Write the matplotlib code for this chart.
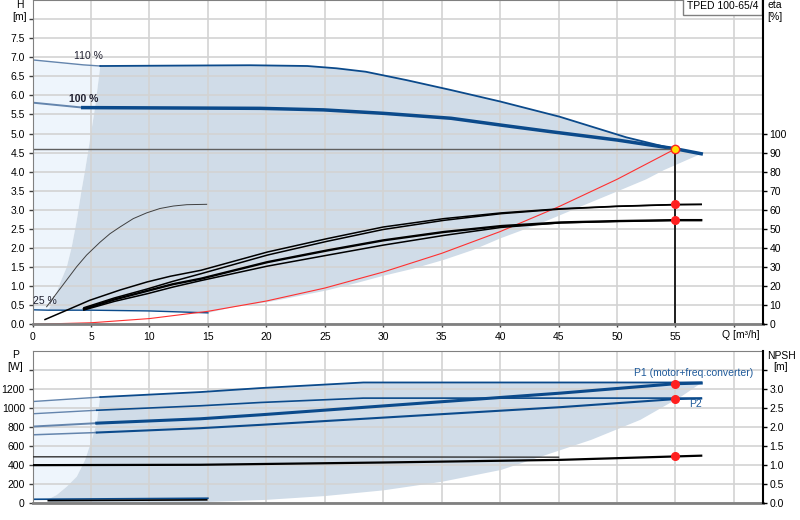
import matplotlib.pyplot as plt

plt.rcParams['font.family'] = ['Liberation Sans', 'DejaVu Sans']
plt.rcParams['font.size'] = 7.5

# --- Q-H (top panel) ---
q_h110 = [0, 4.35, 5.8, 12, 18.6, 23.5, 26, 28.5, 32, 35.8, 40, 45.1, 50.8, 54, 57.2]
h_110 = [6.93, 6.8, 6.77, 6.78, 6.79, 6.77, 6.71, 6.62, 6.4, 6.14, 5.84, 5.44, 4.9, 4.66, 4.47]
q_h100 = [0, 4.3, 12, 19.5, 24.9, 30, 35.8, 40.1, 44.3, 50, 55, 57.2]
h_100 = [5.81, 5.68, 5.67, 5.66, 5.62, 5.53, 5.4, 5.22, 5.05, 4.83, 4.6, 4.47]
q_h25 = [0, 1.35, 5, 10, 15]
h_25 = [0.38, 0.37, 0.37, 0.35, 0.3]

# left edge of operating range
q_edge = [1.35, 1.5, 1.93, 2.36, 2.93, 3.36, 3.79, 4.2, 4.5, 4.78, 5.36, 5.8]
h_edge = [0.37, 0.45, 0.72, 1.08, 1.5, 2.03, 2.73, 3.52, 4.04, 4.57, 5.7, 6.77]
# lower edge of operating range
q_low = [15, 17.2, 20.1, 22.6, 25.2, 27.7, 30, 32.6, 35.2, 37.7, 40, 43.5, 47, 50, 52.5, 54, 57.2]
h_low = [0.3, 0.45, 0.58, 0.73, 0.89, 1.08, 1.27, 1.46, 1.69, 1.95, 2.25, 2.65, 3.1, 3.48, 3.8, 4.04, 4.47]

# system curve
q_sys = [0, 5, 10, 15, 20, 25, 30, 35, 40, 45, 50, 55]
h_sys = [0, 0.04, 0.15, 0.34, 0.61, 0.95, 1.37, 1.86, 2.43, 3.08, 3.8, 4.6]

# duty point
q_duty = 55
h_duty = 4.6

# efficiency curves [%]
q_eta_a = [1.07, 2.63, 4.9, 7.5, 9.8, 11.8, 14.4, 20.1, 25.2, 30, 35.2, 40.1, 45.2, 50, 55, 57.2]
eta_a = [2.5, 6.6, 12.6, 18, 22.2, 25.2, 28.3, 37.9, 44.9, 51, 55.4, 58.4, 60.6, 61.9, 62.8, 62.9]
q_eta_b = [4.4, 7, 9.8, 12, 14.4, 20.1, 25.2, 30, 35.2, 40.1, 45.2, 50, 55, 57.2]
eta_b = [8.7, 13.8, 18.5, 22.5, 26.5, 36.3, 43.5, 49.7, 54.5, 58, 60.4, 61.8, 62.7, 62.8]
q_eta_c = [4.4, 7, 9.8, 12, 14.4, 20.1, 25.2, 30, 35.2, 40.1, 45.2, 50, 55, 57.2]
eta_c = [8, 13, 17.5, 21, 23.9, 32.6, 38.7, 44, 48.4, 51.5, 53.4, 54.1, 54.6, 54.6]
q_eta_d = [4.4, 7, 9.8, 12, 14.4, 20.1, 25.2, 30, 35.2, 40.1, 45.2, 50, 55, 57.2]
eta_d = [7.5, 12, 16, 19.5, 22.9, 30.5, 36.2, 41.5, 46.6, 50.8, 53.2, 54, 54.5, 54.5]
q_eta25 = [1.21, 2.07, 2.92, 3.78, 4.63, 5.77, 6.63, 7.48, 8.62, 9.76, 10.9, 12.05, 13.2, 14.9]
eta_25 = [9.2, 16.3, 23.2, 30.2, 36.3, 43, 47.5, 51, 55.4, 58.4, 60.7, 62, 62.7, 62.9]
eta_duty = [62.8, 54.6]

# --- P / NPSH (bottom panel) ---
q_p1_110 = [0, 5.8, 14.35, 19.5, 28.3, 57.2]
p1_110 = [1067, 1114, 1167, 1209, 1268, 1268]
q_p2_110 = [0, 5.5, 14.35, 19.5, 28.3, 57.2]
p2_110 = [938, 975, 1022, 1057, 1103, 1103]
q_p1_100 = [0, 5.5, 14.35, 19.5, 45.2, 55, 57.2]
p1_100 = [803, 839, 885, 927, 1156, 1255, 1262]
q_p2_100 = [0, 5.5, 14.35, 19.5, 45.2, 55, 57.2]
p2_100 = [716, 740, 786, 821, 1008, 1093, 1099]
q_p1_25 = [0, 15]
p1_25 = [36, 47]
q_p2_25 = [1.35, 14.9]
p2_25 = [22, 30]
p_duty = [1255, 1093]

q_pedge = [1.35, 2.07, 2.93, 3.79, 4.5, 5.07, 5.5, 5.78]
p_edge = [36, 81, 169, 275, 451, 663, 839, 1114]
q_plow = [14.9, 20, 25, 30, 35, 40.1, 43.5, 47.8, 52, 55.5, 57.2]
p_low = [8, 30, 70, 130, 220, 346, 486, 663, 874, 1120, 1262]

q_npsh_a = [0, 20, 45]
npsh_a = [1.21, 1.21, 1.2]
q_npsh_b = [0, 14.35, 30, 45.2, 55, 57.2]
npsh_b = [0.99, 1.0, 1.06, 1.13, 1.22, 1.24]
npsh_duty = 1.22

dark_blue = '#0b4a8b'
pale_blue = '#6485ad'
fill_dark = '#d0dce8'
fill_light = '#eef5fc'
grid_col = '#d3d3d3'


def rev(a):
    return list(a)[::-1]


def two_tone(axis, q, v, lw, lw_left):
    # the part left of the operating range is drawn paler
    axis.plot(q[:2], v[:2], color=pale_blue, lw=lw_left)
    axis.plot(q[1:], v[1:], color=dark_blue, lw=lw)


fig = plt.figure(figsize=(8, 5.2), dpi=100)
ax = fig.add_axes([32.5 / 800, 1 - 324.3 / 520, 730.2 / 800, 324.3 / 520])
axb = fig.add_axes([32.5 / 800, 1 - 502.7 / 520, 730.2 / 800, 151.7 / 520])

# ---------- top panel ----------
ax.set_xlim(0, 62.46)
ax.set_ylim(0, 8.5)

i_split = q_h110.index(5.8)
light_q = [0] + q_edge + rev(q_h110[:i_split])
light_h = [h_25[0]] + h_edge + rev(h_110[:i_split])
ax.fill(light_q, light_h, color=fill_light, lw=0)
dark_q = q_edge + q_h110[i_split:] + rev(q_low) + rev(q_h25[1:-1])
dark_h = h_edge + h_110[i_split:] + rev(h_low) + rev(h_25[1:-1])
ax.fill(dark_q, dark_h, color=fill_dark, lw=0)

ax.set_axisbelow('line')
ax.set_xticks(range(0, 61, 5))
ax.set_xticklabels([str(v) for v in range(0, 56, 5)] + [''])
ax.set_yticks([v * 0.5 for v in range(17)])
ax.set_yticklabels(['%.1f' % (v * 0.5) for v in range(16)] + [''])
ax.grid(True, color=grid_col, lw=1.2)

ax.plot(q_h110[:3], h_110[:3], color=pale_blue, lw=1)
ax.plot(q_h110[2:], h_110[2:], color=dark_blue, lw=1.3)
two_tone(ax, q_h100, h_100, 2.5, 1.4)
ax.plot(q_h25, h_25, color=dark_blue, lw=1)
ax.plot(q_sys, h_sys, color='#ff3030', lw=0.8)
ax.plot([0, q_duty], [h_duty, h_duty], color='#606060', lw=1)
ax.plot([q_duty, q_duty], [0, h_duty], color='black', lw=1.2)
ax.plot(q_duty, h_duty, 'o', mfc='#ffe000', mec='#ff2020', ms=6, mew=1, zorder=5)

ax.text(3.55, 7.02, '110 %', va='center', ha='left', color='#202030')
ax.text(3.12, 5.91, '100 %', va='center', ha='left', fontweight='bold', color='#202030')
ax.text(0.05, 0.61, '25 %', va='center', ha='left', color='#202030')
ax.text(58.96, -0.28, 'Q [m³/h]', va='center', ha='left', clip_on=False)

ax.text(0.994, 0.997, 'TPED 100-65/4', transform=ax.transAxes, ha='right', va='top',
        bbox=dict(boxstyle='square,pad=0.35', fc='white', ec='#808080', lw=1))

for s in ['left', 'top']:
    ax.spines[s].set_color('#808080')
ax.spines['bottom'].set_color('#808080')
ax.spines['bottom'].set_linewidth(2)
ax.spines['right'].set_visible(False)
ax.tick_params(axis='y', length=3, width=1, color='#404040', pad=2.5)
ax.tick_params(axis='x', length=2.2, width=1, color='#404040', pad=3)

axe = ax.twinx()
axe.set_ylim(0, 170)
axe.set_yticks(range(0, 101, 10))
axe.plot(q_eta_a, eta_a, color='black', lw=1.1)
axe.plot(q_eta_b, eta_b, color='black', lw=1.1)
axe.plot(q_eta_c, eta_c, color='black', lw=1.7)
axe.plot(q_eta_d, eta_d, color='black', lw=1.1)
axe.plot(q_eta25, eta_25, color='#404040', lw=0.7)
axe.plot([q_duty] * 2, eta_duty, 'o', color='#ff2020', ms=5.5, zorder=5)
for s in ['left', 'top', 'bottom']:
    axe.spines[s].set_visible(False)
axe.spines['right'].set_color('black')
axe.spines['right'].set_linewidth(1.5)
axe.tick_params(axis='y', length=3, width=1, color='black', pad=2)

# ---------- bottom panel ----------
axb.set_xlim(0, 62.46)
axb.set_ylim(0, 1600)

lightb_q = [0] + q_pedge + [0]
lightb_p = [p1_25[0]] + p_edge + [p1_110[0]]
axb.fill(lightb_q, lightb_p, color=fill_light, lw=0)
darkb_q = q_pedge + q_p1_110[2:] + rev(q_plow) + [q_pedge[0]]
darkb_p = p_edge + p1_110[2:] + rev(p_low) + [8]
axb.fill(darkb_q, darkb_p, color=fill_dark, lw=0)

axb.set_axisbelow('line')
axb.set_xticks(range(0, 61, 5))
axb.set_xticklabels([])
axb.set_yticks(range(0, 1401, 200))
axb.set_yticklabels([str(v) for v in range(0, 1201, 200)] + [''])
axb.grid(True, color=grid_col, lw=1.2)

two_tone(axb, q_p1_110, p1_110, 1.3, 1)
two_tone(axb, q_p2_110, p2_110, 1.2, 1)
two_tone(axb, q_p1_100, p1_100, 2.2, 1.4)
two_tone(axb, q_p2_100, p2_100, 1.5, 1.1)
axb.plot(q_p1_25, p1_25, color=dark_blue, lw=1.2)
axb.plot(q_p2_25, p2_25, color='black', lw=1.2)
axb.plot([q_duty] * 2, p_duty, 'o', color='#ff2020', ms=5.5, zorder=5)

axb.text(61.66, 1371, 'P1 (motor+freq.converter)', ha='right', va='center', color='#1f5a9a')
axb.text(56.2, 1038, 'P2', ha='left', va='center', color='#1f5a9a')

for s in ['left', 'top']:
    axb.spines[s].set_color('#808080')
axb.spines['bottom'].set_color('#808080')
axb.spines['bottom'].set_linewidth(2)
axb.spines['right'].set_visible(False)
axb.tick_params(axis='y', length=3, width=1, color='#404040', pad=2.5)
axb.tick_params(axis='x', length=0)

axn = axb.twinx()
axn.set_ylim(0, 4.0)
axn.set_yticks([v * 0.5 for v in range(8)])
axn.set_yticklabels(['%.1f' % (v * 0.5) for v in range(7)] + [''])
axn.plot(q_npsh_a, npsh_a, color='#303030', lw=1)
axn.plot(q_npsh_b, npsh_b, color='black', lw=1.6)
axn.plot(q_duty, npsh_duty, 'o', color='#ff2020', ms=5.5, zorder=5)
for s in ['left', 'top', 'bottom']:
    axn.spines[s].set_visible(False)
axn.spines['right'].set_color('black')
axn.spines['right'].set_linewidth(1.5)
axn.tick_params(axis='y', length=3, width=1, color='black', pad=2)

# axis titles
fig.text(20.3 / 800, 1 - 5 / 520, 'H', ha='center', va='center')
fig.text(19.7 / 800, 1 - 17.5 / 520, '[m]', ha='center', va='center')
fig.text(775 / 800, 1 - 5 / 520, 'eta', ha='center', va='center')
fig.text(775 / 800, 1 - 17 / 520, '[%]', ha='center', va='center')
fig.text(15.5 / 800, 1 - 355.5 / 520, 'P', ha='center', va='center')
fig.text(15.3 / 800, 1 - 367 / 520, '[W]', ha='center', va='center')
fig.text(781 / 800, 1 - 356 / 520, 'NPSH', ha='center', va='center')
fig.text(781 / 800, 1 - 367 / 520, '[m]', ha='center', va='center')

fig.savefig('out.png', dpi=100)
